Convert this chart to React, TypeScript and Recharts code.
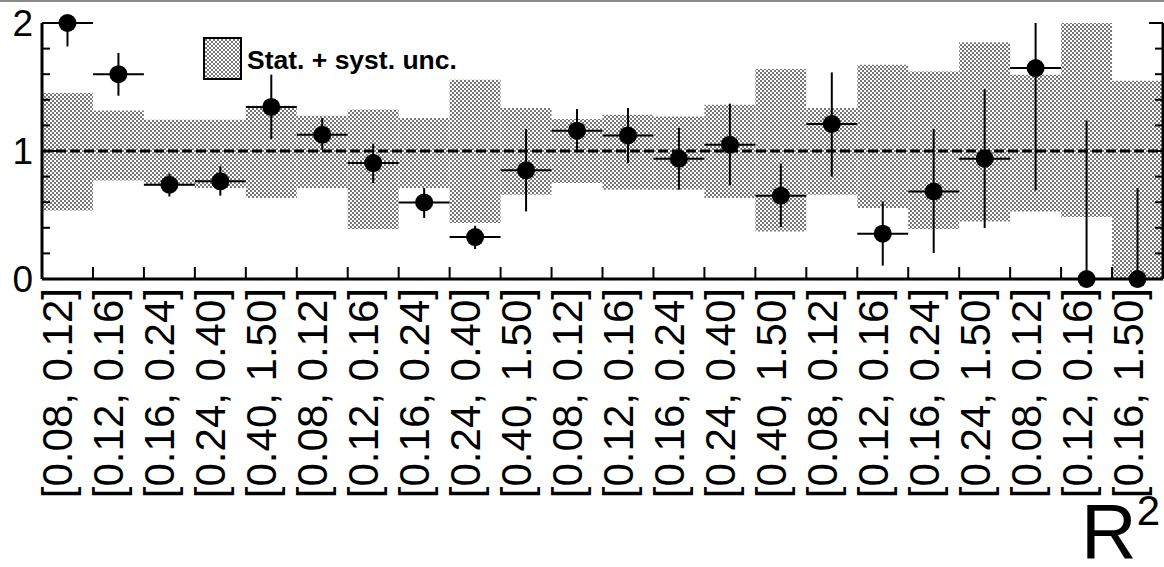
import React from 'react';
import {
  ComposedChart,
  XAxis,
  YAxis,
  Scatter,
  ErrorBar,
  ReferenceArea,
  ReferenceLine,
  Legend,
} from 'recharts';

// ---------------- data ----------------
const binLabels = [
  '[0.08, 0.12]', '[0.12, 0.16]', '[0.16, 0.24]', '[0.24, 0.40]', '[0.40, 1.50]',
  '[0.08, 0.12]', '[0.12, 0.16]', '[0.16, 0.24]', '[0.24, 0.40]', '[0.40, 1.50]',
  '[0.08, 0.12]', '[0.12, 0.16]', '[0.16, 0.24]', '[0.24, 0.40]', '[0.40, 1.50]',
  '[0.08, 0.12]', '[0.12, 0.16]', '[0.16, 0.24]', '[0.24, 1.50]',
  '[0.08, 0.12]', '[0.12, 0.16]', '[0.16, 1.50]',
];

const ratio = [
  2.0, 1.6, 0.737, 0.763, 1.344, 1.127, 0.906, 0.598, 0.328, 0.849, 1.159,
  1.122, 0.94, 1.049, 0.651, 1.211, 0.354, 0.684, 0.94, 1.648, 0.0, 0.0,
];
const errLow = [
  1.817, 1.432, 0.645, 0.651, 1.094, 1.01, 0.75, 0.477, 0.234, 0.528, 1.005,
  0.906, 0.698, 0.731, 0.406, 0.8, 0.104, 0.203, 0.398, 0.692, 0.0, 0.0,
];
const errHigh = [
  2.2, 1.766, 0.823, 0.88, 1.596, 1.258, 1.057, 0.711, 0.416, 1.172, 1.328,
  1.336, 1.18, 1.37, 0.901, 1.614, 0.606, 1.172, 1.484, 2.3, 1.239, 0.711,
];
const bandLow = [
  0.536, 0.77, 0.73, 0.711, 0.633, 0.711, 0.391, 0.711, 0.4375, 0.659, 0.75,
  0.698, 0.698, 0.633, 0.372, 0.659, 0.555, 0.391, 0.45, 0.528, 0.484, 0.0,
];
const bandHigh = [
  1.453, 1.317, 1.245, 1.245, 1.354, 1.276, 1.323, 1.258, 1.557, 1.336, 1.25,
  1.284, 1.27, 1.362, 1.64, 1.336, 1.674, 1.622, 1.849, 1.596, 2.05, 1.549,
];

const yDomain = [0, 2];
const yTicks = [0, 0.2, 0.4, 0.6, 0.8, 1, 1.2, 1.4, 1.6, 1.8, 2];
const legendText = 'Stat. + syst. unc.';
const xTitle = 'R';
const xTitleSup = '2';

// --------------- derived table ---------------
const nBins = binLabels.length;
const points = ratio.map((v, i) => {
  // error bars are cut at the frame like in the original plot
  const hi = Math.min(errHigh[i], yDomain[1]);
  const lo = Math.max(errLow[i], yDomain[0]);
  return { x: i + 0.5, y: v, yErr: [v - lo, hi - v], xErr: 0.5 };
});
const edgeTicks = Array.from({ length: nBins + 1 }, (_, i) => i);
const bottomTicks: number[] = [];
for (let i = 0; i <= nBins; i++) {
  bottomTicks.push(i);
  if (i < nBins) bottomTicks.push(i + 0.5);
}

const FONT = '"Liberation Sans", Arial, Helvetica, sans-serif';

// --------------- ticks ---------------
const BottomTick = (props: any) => {
  const { x, y, payload } = props;
  const v = payload.value as number;
  if (Number.isInteger(v)) {
    if (v === 0 || v === nBins) return <g />;
    return <line x1={x} x2={x} y1={y} y2={y - 12} stroke="#000" strokeWidth={2} />;
  }
  const idx = Math.floor(v);
  return (
    <text
      transform={`translate(${x + 5}, ${y + 9}) rotate(-90)`}
      textAnchor="end"
      fontSize={42}
      fontFamily={FONT}
      fill="#000"
    >
      {binLabels[idx]}
    </text>
  );
};

const TopTick = (props: any) => {
  const { x, y, payload } = props;
  const v = payload.value as number;
  if (v === 0 || v === nBins) return <g />;
  return <line x1={x} x2={x} y1={y} y2={y + 12} stroke="#000" strokeWidth={2} />;
};

const isMajor = (v: number) => Math.abs(v - Math.round(v)) < 1e-6;

const LeftTick = (props: any) => {
  const { x, y, payload } = props;
  const v = payload.value as number;
  const major = isMajor(v);
  return (
    <g>
      <line x1={x} x2={x + (major ? 14 : 8)} y1={y} y2={y} stroke="#000" strokeWidth={2} />
      {major && (
        <text x={x - 9} y={y} dy="0.36em" textAnchor="end" fontSize={37} fontFamily={FONT} fill="#000">
          {Math.round(v)}
        </text>
      )}
    </g>
  );
};

const RightTick = (props: any) => {
  const { x, y, payload } = props;
  const v = payload.value as number;
  const major = isMajor(v);
  return <line x1={x} x2={x - (major ? 14 : 8)} y1={y} y2={y} stroke="#000" strokeWidth={2} />;
};

const Dot = (props: any) => {
  const { cx, cy } = props;
  if (cx == null || cy == null) return <g />;
  return <circle cx={cx} cy={cy} r={9} fill="#000" />;
};

const NoShape = () => <g />;

const LegendBox = () => (
  <div style={{ display: 'flex', alignItems: 'center', fontFamily: FONT }}>
    <svg width={39} height={43} style={{ display: 'block' }}>
      <rect x={1} y={1} width={37} height={41} fill="url(#checker)" stroke="#000" strokeWidth={2} />
    </svg>
    <span style={{ fontWeight: 'bold', fontSize: 26.5, marginLeft: 5, marginTop: 4, whiteSpace: 'nowrap', color: '#000' }}>
      {legendText}
    </span>
  </div>
);

export default function App() {
  return (
    <div style={{ position: 'absolute', left: 0, top: 0, width: 1164, height: 567, background: '#fff', overflow: 'hidden' }}>
      <div style={{ position: 'absolute', left: 0, top: 0, width: 1164, height: 2, background: '#8a8a8a' }} />
      <svg width={0} height={0} style={{ position: 'absolute' }}>
        <defs>
          <pattern id="checker" width="4" height="4" patternUnits="userSpaceOnUse">
            <rect width="4" height="4" fill="#ffffff" />
            <rect width="2" height="2" fill="#777777" />
            <rect x="2" y="2" width="2" height="2" fill="#777777" />
          </pattern>
        </defs>
      </svg>
      <ComposedChart
        width={1164}
        height={567}
        data={points}
        margin={{ top: 23, right: 0, bottom: 0, left: 0 }}
      >
        <XAxis
          xAxisId="b"
          dataKey="x"
          type="number"
          domain={[0, nBins]}
          ticks={bottomTicks}
          interval={0}
          height={288}
          tick={<BottomTick />}
          tickLine={false}
          tickSize={0}
          tickMargin={0}
          axisLine={{ stroke: '#000', strokeWidth: 3 }}
          allowDataOverflow
        />
        <XAxis
          xAxisId="top"
          orientation="top"
          type="number"
          domain={[0, nBins]}
          ticks={edgeTicks}
          interval={0}
          height={0}
          tick={<TopTick />}
          tickLine={false}
          tickSize={0}
          tickMargin={0}
          axisLine={{ stroke: '#000', strokeWidth: 3 }}
          allowDataOverflow
        />
        <YAxis
          yAxisId="left"
          dataKey="y"
          type="number"
          domain={yDomain}
          ticks={yTicks}
          interval={0}
          width={42}
          tick={<LeftTick />}
          tickLine={false}
          tickSize={0}
          tickMargin={0}
          axisLine={{ stroke: '#000', strokeWidth: 3 }}
          allowDataOverflow
        />
        <YAxis
          yAxisId="right"
          orientation="right"
          type="number"
          domain={yDomain}
          ticks={yTicks}
          interval={0}
          width={1}
          tick={<RightTick />}
          tickLine={false}
          tickSize={0}
          tickMargin={0}
          axisLine={{ stroke: '#000', strokeWidth: 3 }}
          allowDataOverflow
        />
        <YAxis yAxisId="pts" dataKey="y" type="number" domain={yDomain} hide />

        {bandLow.map((lo, i) => (
          <ReferenceArea
            key={`band-${i}`}
            xAxisId="b"
            yAxisId="left"
            x1={i}
            x2={i + 1}
            y1={lo}
            y2={bandHigh[i]}
            fill="url(#checker)"
            fillOpacity={1}
            stroke="none"
            ifOverflow="hidden"
          />
        ))}
        <ReferenceLine
          xAxisId="b"
          yAxisId="left"
          y={1}
          stroke="#000"
          strokeWidth={3}
          strokeDasharray="10 4"
        />
        <Scatter
          xAxisId="b"
          yAxisId="left"
          dataKey="y"
          shape={<NoShape />}
          isAnimationActive={false}
        >
          <ErrorBar dataKey="yErr" direction="y" width={0} stroke="#000" strokeWidth={2} isAnimationActive={false} />
          <ErrorBar dataKey="xErr" direction="x" width={0} stroke="#000" strokeWidth={2} isAnimationActive={false} />
        </Scatter>
        <Scatter
          xAxisId="b"
          yAxisId="pts"
          dataKey="y"
          shape={<Dot />}
          isAnimationActive={false}
        />
        <Legend
          layout="horizontal"
          verticalAlign="middle"
          align="center"
          content={<LegendBox />}
          wrapperStyle={{ position: 'absolute', left: 203, top: 37, width: 'auto', height: 'auto' }}
        />
      </ComposedChart>
      <svg width={1164} height={567} style={{ position: 'absolute', left: 0, top: 0, pointerEvents: 'none' }}>
        <text x={1160} y={558} textAnchor="end" fontFamily={FONT} fill="#000">
          <tspan fontSize={77}>{xTitle}</tspan>
          <tspan fontSize={42} dy={-33}>{xTitleSup}</tspan>
        </text>
      </svg>
    </div>
  );
}
